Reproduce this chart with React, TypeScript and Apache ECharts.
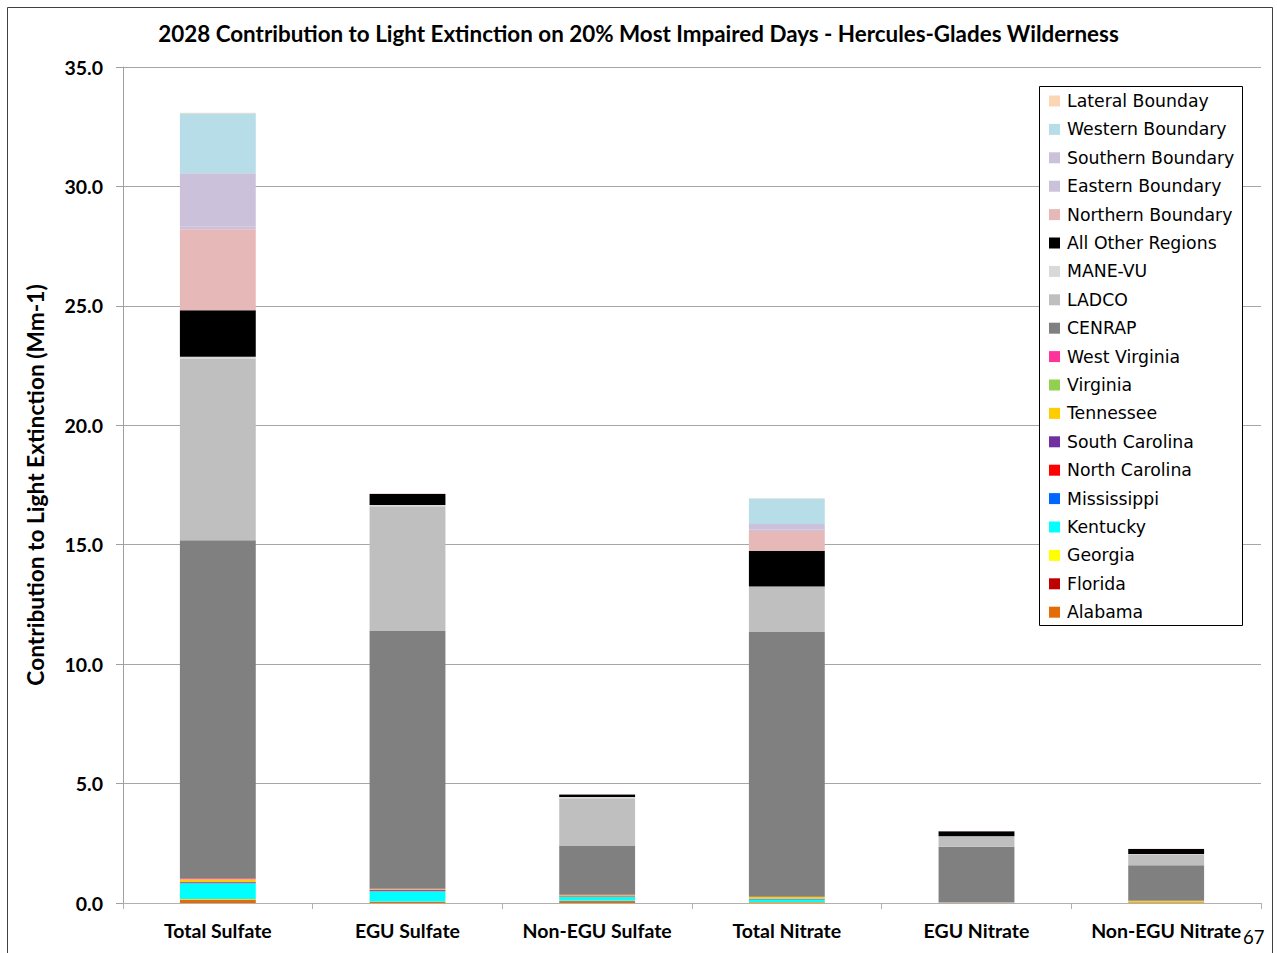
import React, { useEffect, useRef } from "react";
import * as echarts from "echarts";

const categories = ["Total Sulfate", "EGU Sulfate", "Non-EGU Sulfate", "Total Nitrate", "EGU Nitrate", "Non-EGU Nitrate"];

// stacking order bottom -> top
const seriesNames = [
  "Alabama", "Florida", "Georgia", "Kentucky", "Mississippi", "North Carolina", "South Carolina",
  "Tennessee", "Virginia", "West Virginia", "CENRAP", "LADCO", "MANE-VU", "All Other Regions",
  "Northern Boundary", "Eastern Boundary", "Southern Boundary", "Western Boundary", "Lateral Bounday",
];

const seriesColors = [
  "#E36C09", "#C00000", "#FFFF00", "#00FFFF", "#0066FF", "#FF0000", "#7030A0",
  "#FFCC00", "#92D050", "#FF3399", "#808080", "#BFBFBF", "#D9D9D9", "#000000",
  "#E6B9B8", "#CCC1DA", "#CCC1DA", "#B7DEE8", "#FCD5B5",
];

const alabama = [0.14, 0.04, 0.07, 0.03, 0.005, 0.03];
const florida = [0.01, 0.01, 0.01, 0.005, 0, 0.005];
const georgia = [0.02, 0.01, 0.01, 0.01, 0, 0.005];
const kentucky = [0.66, 0.43, 0.16, 0.1, 0.005, 0.005];
const mississippi = [0.02, 0.01, 0.01, 0.02, 0.005, 0.005];
const northCarolina = [0.02, 0.03, 0.02, 0.01, 0, 0];
const southCarolina = [0.01, 0.01, 0.005, 0.005, 0, 0];
const tennessee = [0.1, 0.03, 0.03, 0.07, 0.005, 0.04];
const virginia = [0.01, 0.005, 0.005, 0.005, 0, 0];
const westVirginia = [0.05, 0.02, 0.03, 0.01, 0.01, 0];
const cenrap = [14.15, 10.79, 2.06, 11.1, 2.33, 1.49];
const ladco = [7.58, 5.23, 1.98, 1.87, 0.42, 0.46];
const maneVu = [0.1, 0.05, 0.05, 0.02, 0.01, 0.01];
const allOther = [1.95, 0.46, 0.1, 1.48, 0.21, 0.21];
const northern = [3.39, 0.02, 0.01, 0.84, 0.01, 0.01];
const eastern = [0.1, 0, 0, 0.05, 0, 0];
const southern = [2.24, 0, 0, 0.24, 0, 0];
const western = [2.51, 0, 0, 1.07, 0, 0];
const lateral = [0.02, 0, 0, 0.01, 0, 0];

const seriesValues = [
  alabama, florida, georgia, kentucky, mississippi, northCarolina, southCarolina,
  tennessee, virginia, westVirginia, cenrap, ladco, maneVu, allOther,
  northern, eastern, southern, western, lateral,
];

const yMin = 0;
const yMax = 35;
const yInterval = 5;

export default function App() {
  const ref = useRef<HTMLDivElement>(null);
  useEffect(() => {
    document.body.style.margin = "0";
    if (!ref.current) return;
    const chart = echarts.init(ref.current, null, { renderer: "svg" });
    const series = seriesNames.map((name, i) => ({
      name,
      type: "bar",
      stack: "total",
      barWidth: "40%",
      data: seriesValues[i],
      itemStyle: { color: seriesColors[i] },
      emphasis: { disabled: true },
    }));
    chart.setOption({
      animation: false,
      backgroundColor: "#ffffff",
      title: {
        text: "2028 Contribution to Light Extinction on 20% Most Impaired Days - Hercules-Glades Wilderness",
        left: "center",
        top: 17,
        textStyle: { fontFamily: "Lato", fontWeight: "bold", fontSize: 22.4, color: "#000" },
      },
      grid: { left: 123, right: 16, top: 67, bottom: 50, containLabel: false },
      legend: {
        orient: "vertical",
        left: 1049,
        top: 92,
        padding: 0,
        itemWidth: 11,
        itemHeight: 11,
        itemGap: 10.4,
        icon: "rect",
        data: [...seriesNames].reverse(),
        textStyle: {
          fontFamily: "DejaVu Sans",
          fontSize: 17.3,
          lineHeight: 18,
          color: "#000",
          padding: [0, 0, 0, 2],
        },
        z: 10,
      },
      xAxis: {
        type: "category",
        data: categories,
        boundaryGap: true,
        axisLine: { show: true, lineStyle: { color: "#B0B0B0", width: 1 } },
        axisTick: { show: true, length: 6, lineStyle: { color: "#B0B0B0" } },
        axisLabel: {
          fontFamily: "Lato",
          fontWeight: "bold",
          fontSize: 19.5,
          color: "#000",
          margin: 17,
          interval: 0,
        },
      },
      yAxis: {
        type: "value",
        min: yMin,
        max: yMax,
        interval: yInterval,
        name: "Contribution to Light Extinction (Mm-1)",
        nameLocation: "middle",
        nameGap: 76,
        nameTextStyle: { fontFamily: "Lato", fontWeight: "bold", fontSize: 22.7, color: "#000" },
        axisLine: { show: true, lineStyle: { color: "#A0A0A0", width: 1 } },
        axisTick: { show: true, length: 7, lineStyle: { color: "#A0A0A0" } },
        splitLine: { show: true, lineStyle: { color: "#A6A6A6", width: 1 } },
        axisLabel: {
          fontFamily: "Lato",
          fontWeight: "bold",
          fontSize: 19.5,
          color: "#000",
          margin: 20,
          formatter: (v: number) => v.toFixed(1),
        },
      },
      graphic: [
        {
          type: "rect",
          shape: { x: 7.5, y: 7.5, width: 1265, height: 960 },
          style: { fill: "none", stroke: "#404040", lineWidth: 1 },
          silent: true,
          z: 0,
        },
        {
          type: "rect",
          shape: { x: 1039.5, y: 86.5, width: 203, height: 539 },
          style: { fill: "#ffffff", stroke: "#000000", lineWidth: 1 },
          silent: true,
          z: 5,
        },
        {
          type: "text",
          x: 1243,
          y: 927,
          style: { text: "67", fontFamily: "Lato", fontSize: 18.5, fill: "#000" },
          silent: true,
          z: 6,
        },
      ],
      series,
    });
    return () => chart.dispose();
  }, []);
  return <div ref={ref} style={{ width: 1277, height: 953 }} />;
}
